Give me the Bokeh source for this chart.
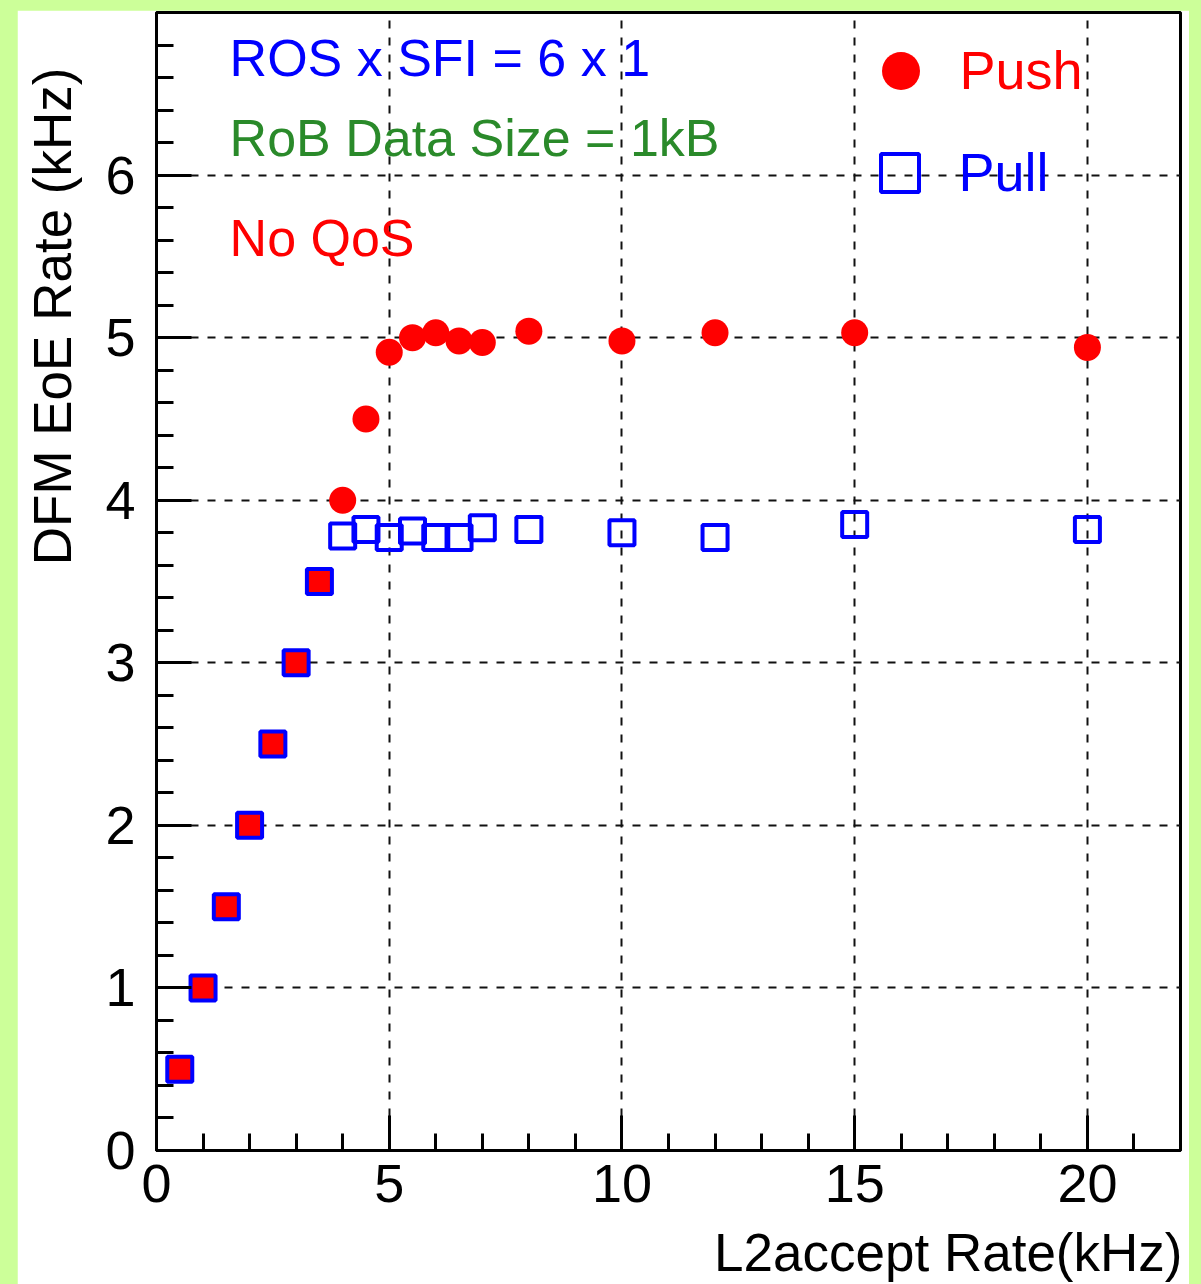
from bokeh.plotting import figure
from bokeh.layouts import column
from bokeh.models import (Range1d, FixedTicker, Label, Legend, LegendItem,
                          LinearAxis, ColumnDataSource)
from bokeh.embed import file_html
from bokeh.resources import INLINE

# ---------------- data ----------------
l2_rate = [0.5, 1, 1.5, 2, 2.5, 3, 3.5, 4, 4.5, 5, 5.5, 6, 6.5, 7, 8, 10, 12, 15, 20]
push_rate = [0.5, 1.0, 1.5, 2.0, 2.5, 3.0, 3.5, 4.0, 4.5, 4.91, 5.0, 5.03, 4.98, 4.97,
             5.04, 4.98, 5.03, 5.03, 4.94]
pull_rate = [0.5, 1.0, 1.5, 2.0, 2.5, 3.0, 3.5, 3.78, 3.82, 3.77, 3.81, 3.77, 3.77, 3.83,
             3.82, 3.80, 3.77, 3.85, 3.82]
x_major = [0, 5, 10, 15, 20]
x_minor = list(range(0, 23))
y_major = [0, 1, 2, 3, 4, 5, 6]
y_minor = [round(i * 0.2, 2) for i in range(36)]

FONT = "Liberation Sans"
GREEN_BG = "#ccff99"
NBSP = "\u00a0"

# where both series coincide the marker shows as a red-filled square
overlap_alpha = [1.0 if abs(a - b) < 1e-9 else 0.0 for a, b in zip(push_rate, pull_rate)]
src = ColumnDataSource(dict(x=l2_rate, push=push_rate, pull=pull_rate, fa=overlap_alpha))

W, H = 1172, 1274
p = figure(width=W, height=H, x_range=Range1d(0, 22), y_range=Range1d(0, 7),
           output_backend="svg", toolbar_location=None,
           min_border_left=139, min_border_right=9, min_border_top=2, min_border_bottom=134)
p.background_fill_color = "white"
p.border_fill_color = "white"
p.outline_line_color = "black"
p.outline_line_width = 3

# axes
p.xaxis.ticker = FixedTicker(ticks=x_major, minor_ticks=x_minor)
p.yaxis.ticker = FixedTicker(ticks=y_major, minor_ticks=y_minor)
p.xgrid.ticker = FixedTicker(ticks=x_major)
p.ygrid.ticker = FixedTicker(ticks=y_major)
for ax in (p.xaxis[0], p.yaxis[0]):
    ax.axis_line_width = 3
    ax.axis_line_color = "black"
    ax.major_tick_in = 35
    ax.major_tick_out = 0
    ax.minor_tick_in = 17
    ax.minor_tick_out = 0
    ax.major_tick_line_width = 3
    ax.minor_tick_line_width = 3
    ax.major_tick_line_color = "black"
    ax.minor_tick_line_color = "black"
    ax.major_label_text_font = FONT
    ax.major_label_text_font_size = "54px"
    ax.major_label_text_color = "black"
p.xaxis.major_label_standoff = 14
p.yaxis.major_label_standoff = 21

# title axes (invisible rules, used only to place the axis titles);
# non-breaking spaces push the titles toward the axis ends as in the original
def title_axis(label, standoff):
    a = LinearAxis(axis_label=label, ticker=FixedTicker(ticks=[]))
    a.axis_line_color = None
    a.major_tick_line_color = None
    a.minor_tick_line_color = None
    a.axis_label_text_font = FONT
    a.axis_label_text_font_size = "53px"
    a.axis_label_text_font_style = "normal"
    a.axis_label_text_color = "black"
    a.axis_label_standoff = standoff
    return a

p.add_layout(title_axis(NBSP * 36 + "DFM EoE Rate (kHz)", 21), "left")
p.add_layout(title_axis(NBSP * 38 + "L2accept Rate(kHz)", 18), "below")

for g in (p.xgrid[0], p.ygrid[0]):
    g.grid_line_color = "#111111"
    g.grid_line_width = 2
    g.grid_line_dash = "8 9"

# data
r_push = p.scatter("x", "push", source=src, marker="circle", size=27,
                   fill_color="red", line_color=None)
r_pull = p.scatter("x", "pull", source=src, marker="square", size=25,
                   fill_color="red", fill_alpha="fa", line_color="blue", line_width=4)

# text annotations
texts = [("ROS x SFI = 6 x 1", "blue", 6.723),
         ("RoB Data Size = 1kB", "#2a8a2a", 6.231),
         ("No QoS", "red", 5.61)]
for t, c, yy in texts:
    p.add_layout(Label(x=1.57, y=yy, text=t, text_color=c, text_font=FONT,
                       text_font_size="52px", text_baseline="alphabetic", text_align="left"))

# legends (one each, so labels can be coloured)
def mk_legend(label, rend, idx, loc, color, standoff):
    lg = Legend(items=[LegendItem(label=label, renderers=[rend], index=idx)], location=loc)
    lg.border_line_color = None
    lg.background_fill_alpha = 0
    lg.padding = 0
    lg.margin = 0
    lg.spacing = 0
    lg.glyph_width = 95
    lg.glyph_height = 95
    lg.label_standoff = standoff
    lg.label_text_font = FONT
    lg.label_text_font_size = "54px"
    lg.label_text_color = color
    return lg

p.add_layout(mk_legend("Push", r_push, 7, (696.5, 1032.5), "red", 12))
p.add_layout(mk_legend("Pull", r_pull, 7, (695.5, 930.5), "blue", 12))

page = column(p, styles={"background-color": GREEN_BG,
                         "padding": "10px 12px 0px 17px"})

open("out.html", "w").write(file_html(page, INLINE))
